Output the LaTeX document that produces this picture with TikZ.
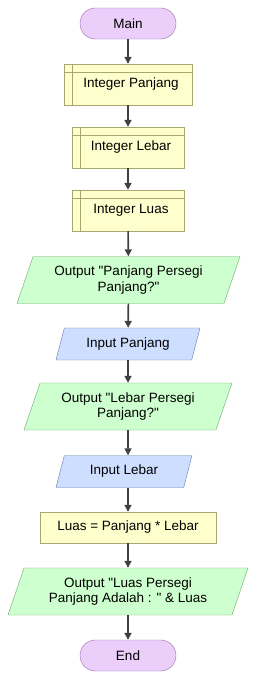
\documentclass[tikz,border=0pt]{standalone}
\usepackage{fontspec}
\setmainfont{Liberation Sans}[Ligatures=TeXOff]
\usetikzlibrary{shapes.geometric,arrows.meta}
\definecolor{termfill}{RGB}{235,206,250}
\definecolor{termdraw}{RGB}{150,110,170}
\definecolor{procfill}{RGB}{255,255,206}
\definecolor{procdraw}{RGB}{168,168,108}
\definecolor{outfill}{RGB}{206,255,206}
\definecolor{outdraw}{RGB}{110,168,110}
\definecolor{infill}{RGB}{206,222,255}
\definecolor{indraw}{RGB}{100,122,170}
\definecolor{flowline}{RGB}{64,64,64}
\begin{document}
\begin{tikzpicture}[
		x=1pt, y=-1pt,
		every node/.style={font=\fontsize{13.5}{15.5}\selectfont, align=center, inner sep=2pt},
		terminal/.style={draw=termdraw, fill=termfill, rounded corners=15.5pt,
			minimum width=96pt, minimum height=31pt},
		declare/.style={draw=procdraw, fill=procfill, minimum height=41pt,
			path picture={
				\draw[procdraw] ([xshift=8pt]path picture bounding box.north west) -- ([xshift=8pt]path picture bounding box.south west);
				\draw[procdraw] ([yshift=-8pt]path picture bounding box.north west) -- ([yshift=-8pt]path picture bounding box.north east);
			}},
		process/.style={draw=procdraw, fill=procfill, minimum height=31pt},
		iobox/.style={trapezium, trapezium left angle=63.4, trapezium right angle=116.6,
			trapezium stretches body},
		output/.style={iobox, draw=outdraw, fill=outfill, minimum height=47pt},
		input/.style={iobox, draw=indraw, fill=infill, minimum height=32pt},
		flow/.style={draw=flowline, line width=1.6pt, -{Triangle[width=7pt,length=7pt]}}
	]
	\useasboundingbox (0,0) rectangle (257,681);

	% nodes
	\node[terminal] (main) at (128,23.5) {Main};
	\node[declare, minimum width=128pt] (panjang) at (128,84.5) {\hspace{6pt}Integer Panjang};
	\node[declare, minimum width=112pt] (lebar) at (128,147.5) {\hspace{6pt}Integer Lebar};
	\node[declare, minimum width=112pt] (luas) at (128,210.5) {\hspace{6pt}Integer Luas};
	\node[output, minimum width=223pt] (askpanjang) at (128.5,280) {Output "Panjang Persegi\\Panjang?"};
	\node[input, minimum width=144pt] (inpanjang) at (128,344) {Input Panjang};
	\node[output, minimum width=208pt] (asklebar) at (128,406.5) {Output "Lebar Persegi\\Panjang?"};
	\node[input, minimum width=136pt] (inlebar) at (124,471.5) {Input Lebar};
	\node[process, minimum width=176pt] (hitung) at (128,527.5) {Luas = Panjang * Lebar};
	\node[output, minimum width=240pt] (hasil) at (128,591.5) {Output "Luas Persegi\\Panjang Adalah : " \& Luas};
	\node[terminal] (end) at (128,655.5) {End};

	% connectors
	\draw[flow] (main) -- (panjang);
	\draw[flow] (panjang) -- (lebar);
	\draw[flow] (lebar) -- (luas);
	\draw[flow] (luas) -- (askpanjang);
	\draw[flow] (askpanjang) -- (inpanjang);
	\draw[flow] (inpanjang) -- (asklebar);
	\draw[flow] (asklebar) -- (inlebar.north -| asklebar.south);
	\draw[flow] (inlebar.south -| hitung.north) -- (hitung);
	\draw[flow] (hitung) -- (hasil);
	\draw[flow] (hasil) -- (end);
\end{tikzpicture}
\end{document}
